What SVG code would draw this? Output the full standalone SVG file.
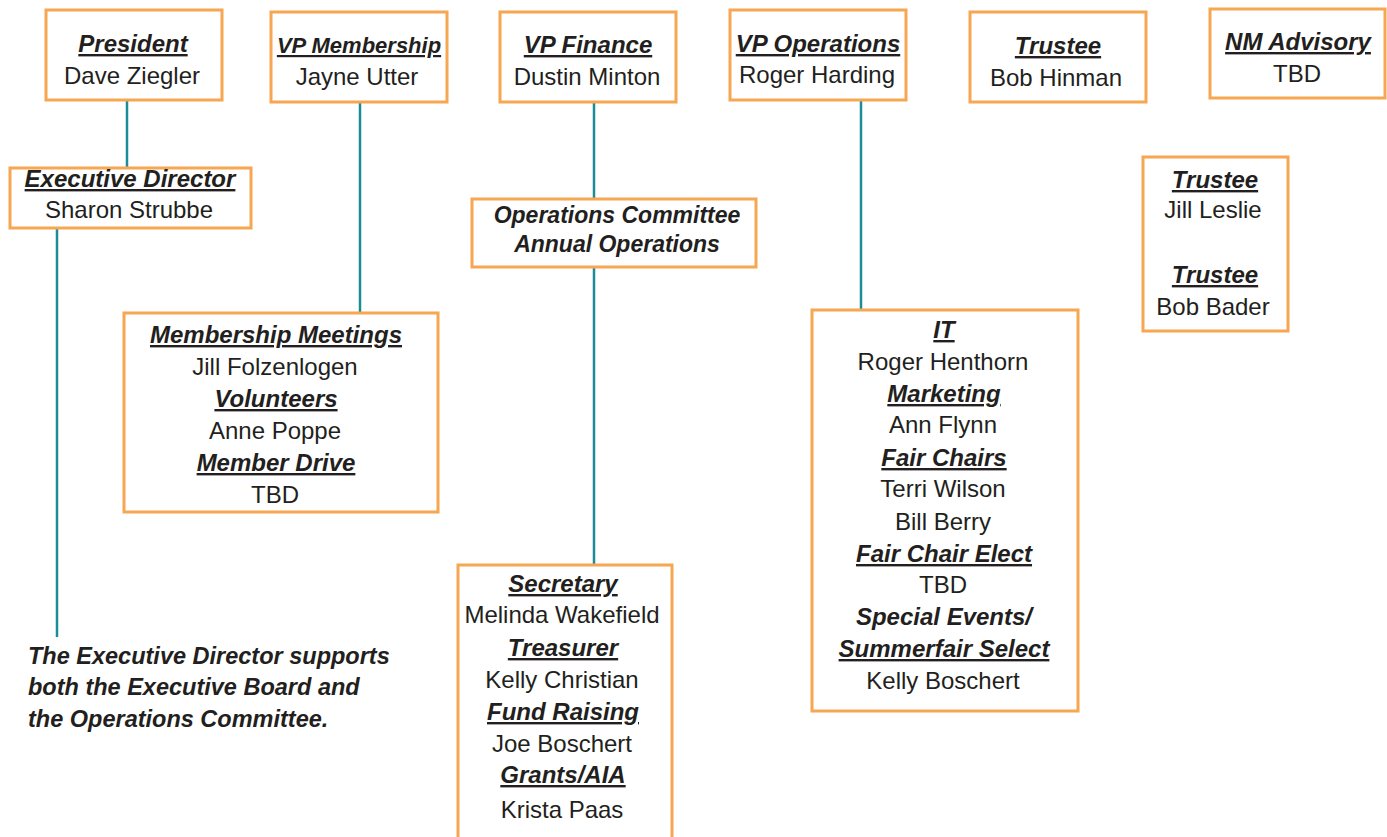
<svg xmlns="http://www.w3.org/2000/svg" width="1387" height="837" viewBox="0 0 1387 837">
<style>
.box{fill:#FFFFFF;stroke:#F7A651;stroke-width:3}
.con{stroke:#1B8C98;stroke-width:2.5;fill:none}
text{font-family:"Liberation Sans",Arial,sans-serif;fill:#231F20;text-anchor:middle}
.t{font-size:24px;font-weight:bold;font-style:italic;text-decoration:underline}
.n{font-size:24px}
.i{font-size:23px;font-weight:bold;font-style:italic}
.note{font-size:23.5px;font-weight:bold;font-style:italic;text-anchor:start}
</style>
<rect width="1387" height="837" fill="#FFFFFF"/>
<g id="connectors">
<line class="con" x1="127" y1="101" x2="127" y2="167"/>
<line class="con" x1="57" y1="229" x2="57" y2="637"/>
<line class="con" x1="360" y1="103" x2="360" y2="312"/>
<line class="con" x1="594" y1="103" x2="594" y2="198"/>
<line class="con" x1="594" y1="268" x2="594" y2="564"/>
<line class="con" x1="861" y1="101" x2="861" y2="309"/>
</g>
<g id="president">
<rect class="box" x="46" y="10" width="176" height="90"/>
<text class="t" x="133" y="52">President</text>
<text class="n" x="132" y="84">Dave  Ziegler</text>
</g>
<g id="vp-membership">
<rect class="box" x="271" y="12" width="176" height="90"/>
<text class="t" x="359" y="53" style="font-size:22px">VP Membership</text>
<text class="n" x="357" y="85">Jayne Utter</text>
</g>
<g id="vp-finance">
<rect class="box" x="500" y="12" width="176" height="90"/>
<text class="t" x="588" y="53">VP Finance</text>
<text class="n" x="587" y="85">Dustin Minton</text>
</g>
<g id="vp-operations">
<rect class="box" x="730" y="10" width="176" height="90"/>
<text class="t" x="818" y="52">VP Operations</text>
<text class="n" x="817" y="83">Roger Harding</text>
</g>
<g id="trustee-hinman">
<rect class="box" x="970" y="12" width="176" height="90"/>
<text class="t" x="1058" y="54">Trustee</text>
<text class="n" x="1056" y="86">Bob Hinman</text>
</g>
<g id="nm-advisory">
<rect class="box" x="1210" y="9" width="175" height="89"/>
<text class="t" x="1298" y="50">NM Advisory</text>
<text class="n" x="1297" y="82">TBD</text>
</g>
<g id="executive-director">
<rect class="box" x="10" y="168" width="241" height="60"/>
<text class="t" x="130" y="187">Executive Director</text>
<text class="n" x="129" y="218">Sharon Strubbe</text>
</g>
<g id="operations-committee">
<rect class="box" x="472" y="199" width="284" height="68"/>
<text class="i" x="617" y="223">Operations Committee</text>
<text class="i" x="617" y="252">Annual  Operations</text>
</g>
<g id="trustees">
<rect class="box" x="1143" y="157" width="145" height="174"/>
<text class="t" x="1215" y="188">Trustee</text>
<text class="n" x="1213" y="218">Jill Leslie</text>
<text class="t" x="1215" y="283">Trustee</text>
<text class="n" x="1213" y="315">Bob Bader</text>
</g>
<g id="membership-meetings">
<rect class="box" x="124" y="313" width="314" height="199"/>
<text class="t" x="276" y="343">Membership Meetings</text>
<text class="n" x="275" y="375">Jill Folzenlogen</text>
<text class="t" x="276" y="407">Volunteers</text>
<text class="n" x="275" y="439">Anne  Poppe</text>
<text class="t" x="276" y="471">Member Drive</text>
<text class="n" x="275" y="503">TBD</text>
</g>
<g id="secretary">
<rect class="box" x="458" y="565" width="214" height="300"/>
<text class="t" x="563" y="592">Secretary</text>
<text class="n" x="562" y="623">Melinda Wakefield</text>
<text class="t" x="563" y="656">Treasurer</text>
<text class="n" x="562" y="688">Kelly  Christian</text>
<text class="t" x="563" y="720">Fund Raising</text>
<text class="n" x="562" y="752">Joe Boschert</text>
<text class="t" x="563" y="783">Grants/AIA</text>
<text class="n" x="562" y="818">Krista  Paas</text>
</g>
<g id="it">
<rect class="box" x="812" y="310" width="266" height="401"/>
<text class="t" x="944" y="338">IT</text>
<text class="n" x="943" y="370">Roger Henthorn</text>
<text class="t" x="944" y="402">Marketing</text>
<text class="n" x="943" y="433">Ann  Flynn</text>
<text class="t" x="944" y="466">Fair Chairs</text>
<text class="n" x="943" y="497">Terri Wilson</text>
<text class="n" x="943" y="530">Bill Berry</text>
<text class="t" x="944" y="562">Fair Chair Elect</text>
<text class="n" x="943" y="593">TBD</text>
<text class="i" x="944" y="625" style="font-size:24px">Special Events/</text>
<text class="t" x="944" y="657">Summerfair Select</text>
<text class="n" x="943" y="689">Kelly Boschert</text>
</g>
<g id="note">
<text class="note" x="28" y="664">The Executive Director supports</text>
<text class="note" x="28" y="695">both the Executive Board and</text>
<text class="note" x="28" y="727">the Operations Committee.</text>
</g>
</svg>
